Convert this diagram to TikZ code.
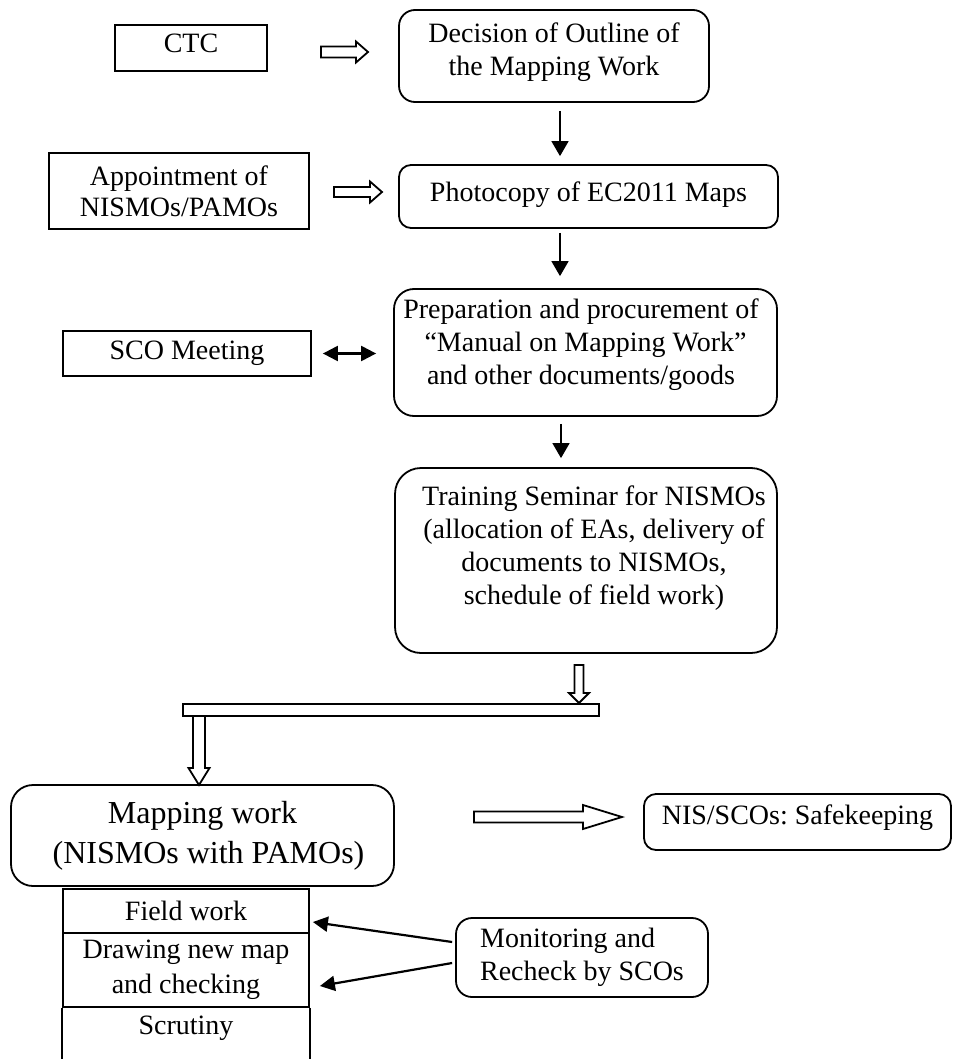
\documentclass[tikz,border=0pt]{standalone}
\usepackage{fontspec}
\setmainfont{Liberation Serif}
\usetikzlibrary{arrows.meta,calc}
\newcommand\fsA{\fontsize{14pt}{16.5pt}\selectfont}
\newcommand\fsB{\fontsize{16pt}{20pt}\selectfont}
\newcommand\fsC{\fontsize{14pt}{17.5pt}\selectfont}
\newcommand\fsD{\fontsize{14pt}{15.5pt}\selectfont}
\frenchspacing
\begin{document}
\frenchspacing
\begin{tikzpicture}[x=0.5pt,y=-0.5pt,
  box/.style={draw, line width=0.9pt, inner sep=0pt, align=center, font=\fsA\frenchspacing, rectangle},
  rbox/.style={box, rounded corners=#1},
  edge/.style={line width=0.9pt},
  arr/.style={line width=0.8pt, -{Triangle[length=7.5pt,width=8.5pt]}},
  dbl/.style={line width=1.1pt, {Triangle[length=7.5pt,width=7.5pt]}-{Triangle[length=7.5pt,width=7.5pt]}},
  marr/.style={line width=1.1pt, -{Triangle[length=7.5pt,width=7.5pt]}},
  hollow/.style={draw, line width=0.9pt, fill=white, line join=miter},
  pics/hright/.style n args={4}{code={\path[hollow] (0,-#2) -- ({#1-#4},-#2) -- ({#1-#4},-#3) -- (#1,0) -- ({#1-#4},#3) -- ({#1-#4},#2) -- (0,#2) -- cycle;}},
  pics/hdown/.style n args={4}{code={\path[hollow] (-#2,0) -- (-#2,{#1-#4}) -- (-#3,{#1-#4}) -- (0,#1) -- (#3,{#1-#4}) -- (#2,{#1-#4}) -- (#2,0) -- cycle;}}
]
\useasboundingbox (0,0) rectangle (953,1059);
\fill[white] (0,0) rectangle (953,1059);
\clip (0,0) rectangle (953,1059);

% nodes
\node[box, minimum width=76pt, minimum height=23pt, text depth=5pt] (ctc) at (191,48) {CTC};
\node[rbox=8pt, minimum width=155pt, minimum height=46pt, text depth=7pt] (dec) at (554,56) {Decision of Outline of\\the Mapping Work};
\node[box, minimum width=130pt, minimum height=38pt, font=\fsD] (app) at (179,191) {Appointment of\\NISMOs/PAMOs};
\node[rbox=6pt, minimum width=189.5pt, minimum height=31.5pt, text depth=5pt] (photo) at (588.5,196.5) {Photocopy of EC2011 Maps};
\node[box, minimum width=124pt, minimum height=22.5pt] (sco) at (187,353.5) {SCO Meeting};
\node[rbox=10pt, minimum width=191.5pt, minimum height=63.5pt, text depth=10.5pt] (prep) at (585.5,352.5) {Preparation and procurement of\hspace*{4.5pt}\\“Manual on Mapping Work”\hspace*{4.5pt}\\and other documents/goods\hspace*{4.5pt}};
\node[rbox=13pt, minimum width=191pt, minimum height=92.5pt, text depth=15pt] (train) at (586,560.5) {\hspace*{8pt}Training Seminar for NISMOs\\\hspace*{8pt}(allocation of EAs, delivery of\\\hspace*{8pt}documents to NISMOs,\\\hspace*{8pt}schedule of field work)};
\node[box, minimum width=208pt, minimum height=6pt] (bar) at (391,710) {};
\node[rbox=11pt, minimum width=191.5pt, minimum height=50.5pt, font=\fsB\frenchspacing] (map) at (202.5,835.5) {Mapping work\\\hspace*{6pt}(NISMOs with PAMOs)};
\node[rbox=6pt, minimum width=153.5pt, minimum height=28pt, text depth=7pt] (nis) at (797.5,822) {NIS/SCOs: Safekeeping};
\node[box, minimum width=123pt, minimum height=22pt] (fw) at (186,911) {Field work};
\node[box, minimum width=123pt, minimum height=37pt, font=\fsC] (dr) at (186,970) {Drawing new map\\and checking};
\node[box, draw=none, minimum width=123pt, minimum height=19pt, anchor=north] (scr) at (dr.south) {Scrutiny};
\draw[edge] (scr.north west) -- ++(0,70);
\draw[edge] (scr.north east) -- ++(0,70);
\node[rbox=8pt, minimum width=126pt, minimum height=39.5pt, align=left] (mon) at (582,957.5) {Monitoring and\\Recheck by SCOs};

% vertical flow arrows
\coordinate (ax) at (560,0);
\coordinate (bx) at (561,0);
\draw[arr] ([yshift=-4pt]dec.south -| ax) -- ([yshift=4pt]photo.north -| ax);
\draw[arr] ([yshift=-2pt]photo.south -| ax) -- ([yshift=6pt]prep.north -| ax);
\draw[arr] ([yshift=-3.5pt]prep.south -| bx) -- ([yshift=4.5pt]train.north -| bx);

% double-headed arrow
\draw[dbl] ([xshift=5.5pt]sco.east) -- ([xshift=-8.5pt]sco.east -| prep.west);

% hollow arrows
\pic at (321,52) {hright={47}{5.5}{10.5}{12}};
\pic at (334,192) {hright={48}{5}{10.5}{12}};
\pic at (579,665) {hdown={38}{4.5}{10}{10}};
\pic at (199,716) {hdown={69}{6}{10.5}{17}};
\pic at (474,817) {hright={148}{5.5}{12}{39}};

% monitoring arrows
\draw[marr] ([xshift=-1.5pt,yshift=7.75pt]mon.west) -- ([xshift=1.5pt,yshift=-5.5pt]fw.east);
\draw[marr] ([xshift=-1.5pt,yshift=-2.75pt]mon.west) -- ([xshift=5pt,yshift=-8pt]dr.east);
\end{tikzpicture}
\end{document}
